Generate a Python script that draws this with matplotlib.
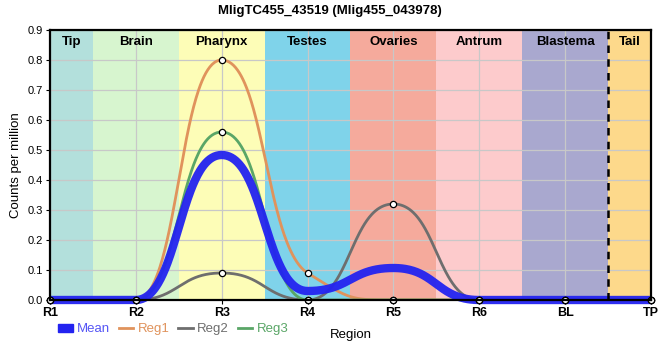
import numpy as np
import matplotlib.pyplot as plt
from matplotlib.lines import Line2D
from matplotlib.patches import Patch

plt.rcParams['font.family'] = ['Liberation Sans', 'DejaVu Sans']

# Data
positions = ["R1", "R2", "R3", "R4", "R5", "R6", "BL", "TP"]
reg1 = [0, 0, 0.80, 0.09, 0, 0, 0, 0]
reg2 = [0, 0, 0.09, 0, 0.32, 0, 0, 0]
reg3 = [0, 0, 0.56, 0, 0, 0, 0, 0]
mean = list(np.mean([reg1, reg2, reg3], axis=0))

regions = ["Tip", "Brain", "Pharynx", "Testes", "Ovaries", "Antrum", "Blastema", "Tail"]
region_bounds = [0, 0.5, 1.5, 2.5, 3.5, 4.5, 5.5, 6.5, 7]
region_colors = ["#b3e0dc", "#d7f5cf", "#fdfdb7", "#7fd3ea", "#f5aa9c",
                 "#fdcbcc", "#a9a8cf", "#fdd98b"]

series_colors = {"Reg1": "#e0935c", "Reg2": "#6e6e6e", "Reg3": "#5aa667"}
mean_color = "#2323f0"


def spline(y, sm=1.0, n=100):
    """bezier spline, control points clamped so no false extremes"""
    y = [float(v) for v in y]
    k = len(y)
    den = sm + 1
    lc = [(i, y[i]) for i in range(k)]
    rc = [(i, y[i]) for i in range(k)]
    for i in range(1, k - 1):
        lx, ly = (sm * i + i - 1) / den, (sm * y[i] + y[i - 1]) / den
        rx, ry = (sm * i + i + 1) / den, (sm * y[i] + y[i + 1]) / den
        corr = (ry - ly) * (rx - i) / (rx - lx) + y[i] - ry
        ly += corr
        ry += corr
        if ly > y[i - 1] and ly > y[i]:
            ly = max(y[i - 1], y[i]); ry = 2 * y[i] - ly
        elif ly < y[i - 1] and ly < y[i]:
            ly = min(y[i - 1], y[i]); ry = 2 * y[i] - ly
        if ry > y[i + 1] and ry > y[i]:
            ry = max(y[i + 1], y[i]); ly = 2 * y[i] - ry
        elif ry < y[i + 1] and ry < y[i]:
            ry = min(y[i + 1], y[i]); ly = 2 * y[i] - ry
        lc[i] = (lx, ly)
        rc[i] = (rx, ry)
    xs, ys = [], []
    t = np.linspace(0, 1, n)
    for i in range(k - 1):
        p0 = (i, y[i]); p1 = rc[i]; p2 = lc[i + 1]; p3 = (i + 1, y[i + 1])
        b0, b1, b2, b3 = (1 - t)**3, 3 * (1 - t)**2 * t, 3 * (1 - t) * t**2, t**3
        xs.append(b0 * p0[0] + b1 * p1[0] + b2 * p2[0] + b3 * p3[0])
        ys.append(b0 * p0[1] + b1 * p1[1] + b2 * p2[1] + b3 * p3[1])
    return np.concatenate(xs), np.concatenate(ys)


fig = plt.figure(figsize=(6.6, 3.6), dpi=100)
ax = fig.add_axes([50 / 660, 60 / 360, 601 / 660, 270 / 360])

x = np.arange(len(positions))

# region bands
for i, name in enumerate(regions):
    ax.axvspan(region_bounds[i], region_bounds[i + 1], color=region_colors[i], lw=0, zorder=0)
    ax.text((region_bounds[i] + region_bounds[i + 1]) / 2, 0.88, name, ha='center', va='top',
            fontsize=9.5, fontweight='bold', zorder=5)
ax.axvline(6.5, color='black', ls=(0, (3, 2.5)), lw=1.8, zorder=6)

ax.grid(True, color='#c8c8c8', lw=0.9, zorder=1)
ax.set_axisbelow(True)

# series
for name, vals in [("Reg1", reg1), ("Reg2", reg2), ("Reg3", reg3)]:
    xs, ys = spline(vals)
    ax.plot(xs, ys, color=series_colors[name], lw=2, zorder=3)
    ax.plot(x, vals, ls='none', marker='o', ms=4.5, mfc='white', mec='black', mew=0.9, zorder=7,
            clip_on=False)

xs, ys = spline(mean)
ax.plot(xs, ys, color=mean_color, lw=6, alpha=0.95, zorder=4, clip_on=False,
        solid_capstyle='butt')

ax.set_xlim(0, 7)
ax.set_ylim(0, 0.9)
ax.set_xticks(x)
ax.set_xticklabels(positions, fontsize=9, fontweight='bold')
ax.set_yticks(np.arange(0, 0.91, 0.1))
ax.set_yticklabels([f"{v:.1f}" for v in np.arange(0, 0.91, 0.1)], fontsize=8)
ax.tick_params(axis='both', length=3, width=0.8, pad=2)
ax.set_ylabel("Counts per million", fontsize=9.5)
ax.set_xlabel("Region", fontsize=9.5, labelpad=7)
for sp in ax.spines.values():
    sp.set_linewidth(1.6)
    sp.set_zorder(8)

fig.suptitle("MligTC455_43519 (Mlig455_043978)", fontsize=9.5, fontweight='bold', y=0.985)

handles = [Patch(color=mean_color, label="Mean"),
           Line2D([], [], color=series_colors["Reg1"], lw=2, label="Reg1"),
           Line2D([], [], color=series_colors["Reg2"], lw=2, label="Reg2"),
           Line2D([], [], color=series_colors["Reg3"], lw=2, label="Reg3")]
leg = fig.legend(handles=handles, loc='center left', bbox_to_anchor=(0.08, 0.085), ncol=4,
                 frameon=False, fontsize=9.5, handlelength=1.1, handleheight=0.55,
                 handletextpad=0.3, columnspacing=0.7, borderaxespad=0)
for txt, h in zip(leg.get_texts(), ["#5555f5", series_colors["Reg1"], series_colors["Reg2"],
                                    series_colors["Reg3"]]):
    txt.set_color(h)

fig.savefig("out.png", dpi=100)
